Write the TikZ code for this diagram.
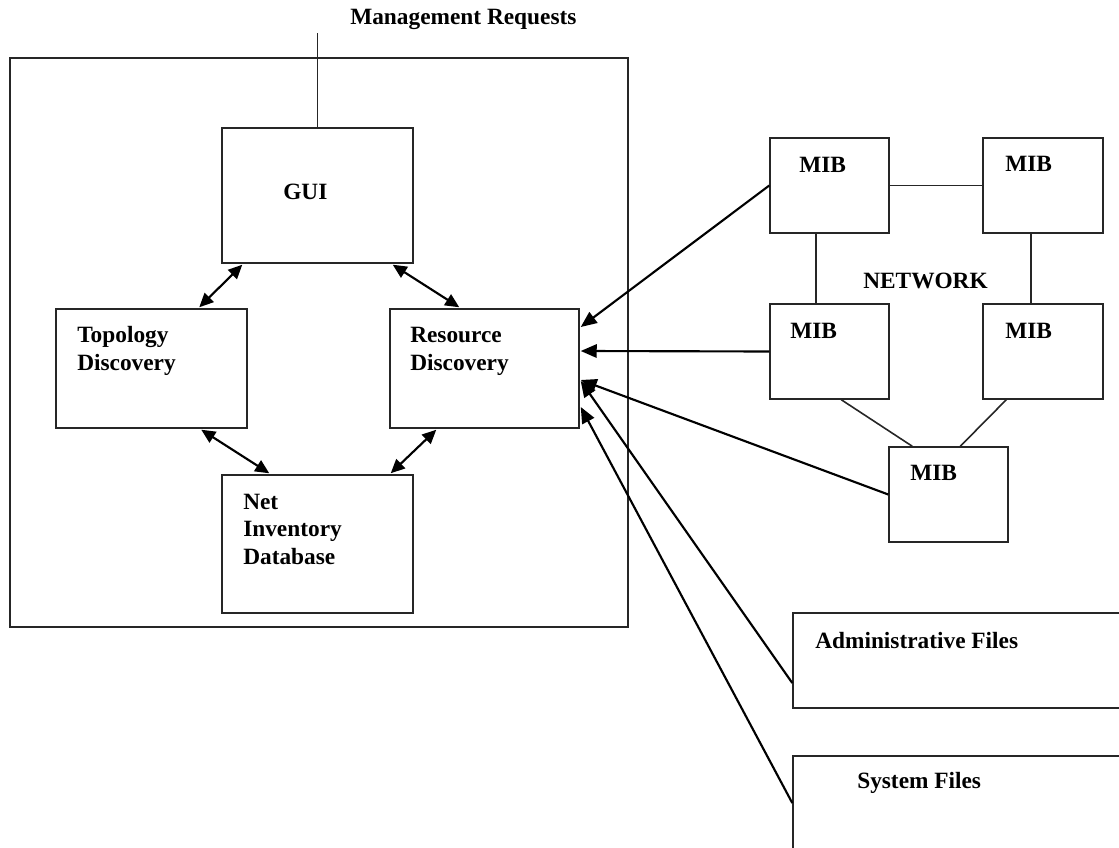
\documentclass[tikz,border=0pt]{standalone}
\usepackage{fontspec}
\setmainfont{Liberation Serif}
\usetikzlibrary{arrows.meta,calc,fit}
\begin{document}
\begin{tikzpicture}[x=0.75pt,y=-0.75pt,
  box/.style={draw=black!85,line width=1.1pt,inner sep=0pt},
  lnk/.style={draw=black!85,line width=1.2pt},
  lbl/.style={anchor=base west,inner sep=0pt,align=left,
    font=\fontsize{17.5}{20.5}\selectfont\bfseries},
  arr/.style={line width=1.6pt,-{Triangle[length=12pt,width=10pt]}},
  darr/.style={line width=1.6pt,{Triangle[length=10.5pt,width=9.5pt]}-{Triangle[length=10.5pt,width=9.5pt]}}]
\useasboundingbox (0,0) rectangle (1119,848);
\clip (0,0) rectangle (1119,848);
% outer system box
\node[box,fit={(10,58) (628,627)}] (sys) {};
% inner components
\node[box,fit={(222,128) (413,263)}] (gui) {};
\node[box,fit={(56,309) (247,428)}] (topo) {};
\node[box,fit={(390,309) (579,428)}] (res) {};
\node[box,fit={(222,475) (413,613)}] (net) {};
% network MIBs
\node[box,fit={(770,138) (889,233)}] (mib1) {};
\node[box,fit={(983,138) (1103,233)}] (mib2) {};
\node[box,fit={(770,304) (889,399)}] (mib3) {};
\node[box,fit={(983,304) (1103,399)}] (mib4) {};
\node[box,fit={(889,447) (1008,542)}] (mib5) {};
% files
\node[box,fit={(793,613) (1130,708)}] (adm) {};
\node[box,fit={(793,756) (1130,860)}] (sysf) {};
% labels (multi-line labels anchored at the baseline of their last line)
\node[lbl] (tmr) at (350,25) {Management Requests};
\node[lbl] (tgui) at (283,200) {GUI};
\node[lbl] (ttopo) at (77,370) {Topology\\Discovery};
\node[lbl] (tres) at (410,370) {Resource\\Discovery};
\node[lbl] (tnet) at (243,564) {Net\\Inventory\\Database};
\node[lbl] (tm1) at (799,173) {MIB};
\node[lbl] (tm2) at (1005,172) {MIB};
\node[lbl] (tm3) at (790,338) {MIB};
\node[lbl] (tm4) at (1005,338) {MIB};
\node[lbl] (tm5) at (910,480) {MIB};
\node[lbl] (tnw) at (863,288) {NETWORK};
\node[lbl] (tadm) at (815,648) {Administrative Files};
\node[lbl] (tsys) at (857,788) {System Files};
% management request line
\coordinate (mreq) at (317.5,33);
\draw[lnk] (gui.north) -- (mreq);
% network links
\draw[lnk] (mib1.east) -- (mib2.west);
\draw[lnk] ($(mib1.south west)+(47,0)$) -- ($(mib3.north west)+(47,0)$);
\draw[lnk] ($(mib2.south west)+(49,0)$) -- ($(mib4.north west)+(49,0)$);
\draw[lnk] ($(mib3.south west)+(72,0)$) -- ($(mib5.north west)+(24,0)$);
\draw[lnk] ($(mib4.south west)+(24,0)$) -- ($(mib5.north west)+(72,0)$);
% double arrows
\draw[darr] ($(gui.south west)+(21,1)$) -- ($(topo.north west)+(144,-1)$);
\draw[darr] ($(gui.south east)+(-21,1)$) -- ($(res.north west)+(70,-1)$);
\draw[darr] ($(topo.south west)+(146,1)$) -- ($(net.north west)+(48,-1)$);
\draw[darr] ($(res.south west)+(47,1)$) -- ($(net.north east)+(-23,-1)$);
% arrows into resource discovery
\draw[arr] (mib1.west) -- ($(res.east)+(1,-41.5)$);
\draw[arr] (mib3.west) -- ($(res.east)+(1,-17.5)$);
\draw[arr] (mib5.west) -- ($(res.east)+(1,11.5)$);
\draw[arr] ($(adm.west)+(0,22.5)$) -- ($(res.east)+(1,12.5)$);
\draw[arr] ($(sysf.west)+(0,-5)$) -- ($(res.east)+(1,38.5)$);
\end{tikzpicture}
\end{document}
